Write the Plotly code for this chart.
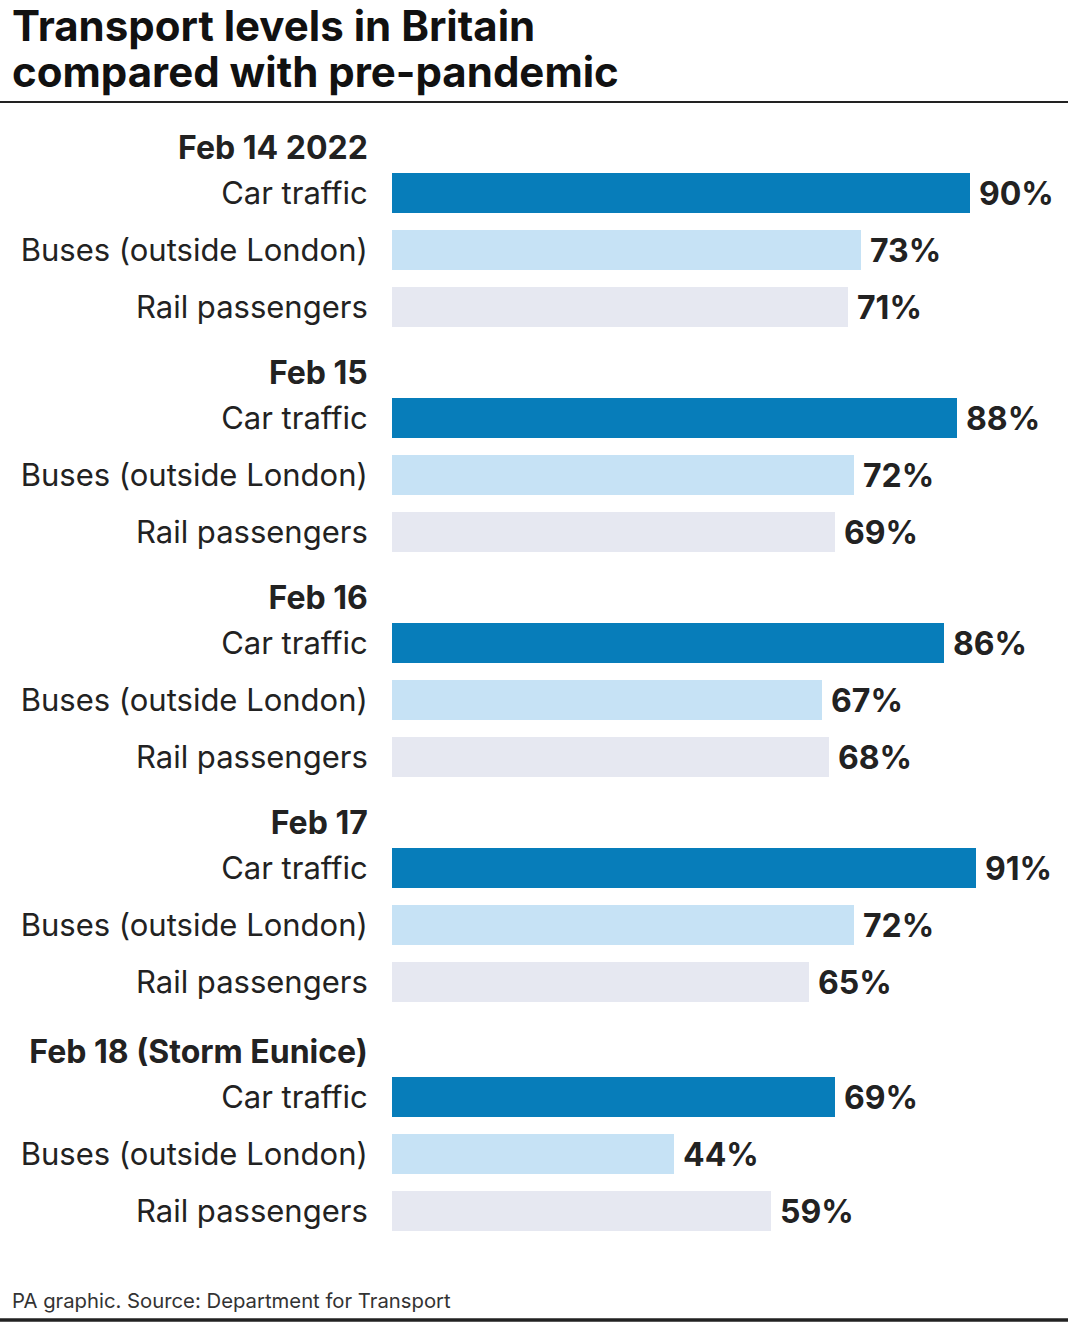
import plotly.graph_objects as go

# ---------------- data ----------------
dates = ["Feb 14 2022", "Feb 15", "Feb 16", "Feb 17", "Feb 18 (Storm Eunice)"]
modes = ["Car traffic", "Buses (outside London)", "Rail passengers"]
car_traffic = [90, 88, 86, 91, 69]
buses_outside_london = [73, 72, 67, 72, 44]
rail_passengers = [71, 69, 68, 65, 59]
series = [car_traffic, buses_outside_london, rail_passengers]
colors = ["#077DBA", "#C6E2F5", "#E6E8F1"]

title_lines = ["Transport levels in Britain", "compared with pre-pandemic"]
source = "PA graphic. Source: Department for Transport"

# ---------------- layout geometry (pixels) ----------------
W, H = 1080, 1324
L, R, T, B = 392, 46, 110, 62
PW, PH = W - L - R, H - T - B
FONT = "Inter"
TXT = "#222222"

first_row = 193
group_step = 225
row_step = 57
header_offset = 45
bar_px = 40


def group_center(g):
    return first_row + group_step * g + (4 if g == len(dates) - 1 else 0)


def xp(px):
    return (px - L) / PW


def yp(py):
    return (H - B - py) / PH


fig = go.Figure()

tickvals, ticktext = [], []
for g, d in enumerate(dates):
    base = group_center(g)
    tickvals.append(base - header_offset)
    ticktext.append(f"<b><span style='font-size:32px'>{d}</span></b>")
    for i, m in enumerate(modes):
        tickvals.append(base + row_step * i)
        ticktext.append(m)

for i, m in enumerate(modes):
    ys = [group_center(g) + row_step * i for g in range(len(dates))]
    fig.add_trace(go.Bar(
        x=series[i], y=ys, orientation="h", width=bar_px,
        marker=dict(color=colors[i], line=dict(width=0)),
        name=m, showlegend=False, hoverinfo="skip",
    ))
    for v, yy in zip(series[i], ys):
        fig.add_annotation(
            x=v, y=yy, xref="x", yref="y", text=f"<b>{v}%</b>",
            showarrow=False, xanchor="left", yanchor="middle", xshift=7,
            font=dict(family=FONT, size=32, color=TXT),
        )

# title
for k, line in enumerate(title_lines):
    fig.add_annotation(
        x=xp(10), y=yp(26 + 46 * k), xref="paper", yref="paper",
        text=f"<b>{line}</b>", showarrow=False, xanchor="left", yanchor="middle",
        font=dict(family=FONT, size=42, color="#111111"),
    )

# source
fig.add_annotation(
    x=xp(10), y=yp(1300), xref="paper", yref="paper", text=source,
    showarrow=False, xanchor="left", yanchor="middle",
    font=dict(family=FONT, size=20.3, color="#333333"),
)

# rules
fig.add_shape(type="line", xref="paper", yref="paper",
              x0=xp(0), x1=xp(1068), y0=yp(102), y1=yp(102),
              line=dict(color="#222222", width=2))
fig.add_shape(type="line", xref="paper", yref="paper",
              x0=xp(0), x1=xp(1068), y0=yp(1320), y1=yp(1320),
              line=dict(color="#222222", width=3.5))

fig.update_layout(
    width=W, height=H,
    margin=dict(l=L, r=R, t=T, b=B, pad=0),
    paper_bgcolor="white", plot_bgcolor="white",
    bargap=0,
    font=dict(family=FONT, color=TXT),
    xaxis=dict(range=[0, 100], visible=False, fixedrange=True),
    yaxis=dict(
        range=[H - B, T], autorange=False,
        tickvals=tickvals, ticktext=ticktext,
        tickfont=dict(family=FONT, size=31, color=TXT),
        ticks="outside", ticklen=17, tickcolor="rgba(0,0,0,0)",
        showgrid=False, zeroline=False, showline=False, fixedrange=True,
    ),
)

fig.write_html(
    "out.html",
    config={"displayModeBar": False},
    post_script="document.documentElement.style.margin='0';document.body.style.margin='0';"
                "document.body.style.overflow='hidden';document.documentElement.style.overflow='hidden';",
)
